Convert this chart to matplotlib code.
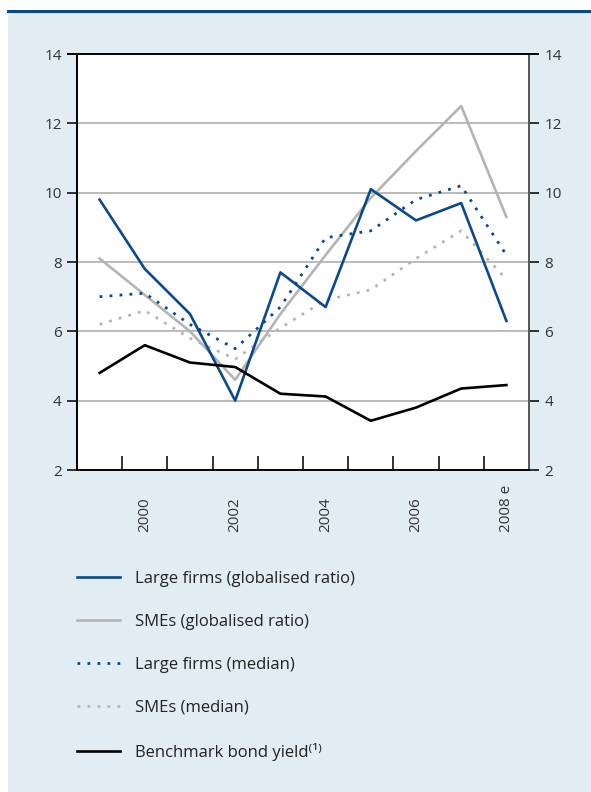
import matplotlib.pyplot as plt
from matplotlib.patches import Rectangle
from matplotlib.transforms import blended_transform_factory

plt.rcParams['font.family'] = ['Open Sans', 'DejaVu Sans']

years = [1999, 2000, 2001, 2002, 2003, 2004, 2005, 2006, 2007, 2008]
large_glob = [9.8, 7.8, 6.5, 4.0, 7.7, 6.7, 10.1, 9.2, 9.7, 6.3]
sme_glob = [8.1, 7.05, 6.0, 4.6, 6.5, 8.2, 9.85, 11.2, 12.5, 9.3]
large_med = [7.0, 7.1, 6.2, 5.5, 6.7, 8.7, 8.9, 9.8, 10.2, 8.2]
sme_med = [6.2, 6.6, 5.8, 5.2, 6.1, 6.9, 7.2, 8.1, 8.9, 7.5]
bond = [4.8, 5.6, 5.1, 4.97, 4.2, 4.12, 3.42, 3.8, 4.35, 4.45]
year_labels = ['2000', '2002', '2004', '2006', '2008 e']
label_years = [2000, 2002, 2004, 2006, 2008]

blue = '#0a4a8c'
grey = '#b4b4b4'
bg = '#e2ecf3'

fig = plt.figure(figsize=(5.91, 7.92), dpi=100)
fig.patch.set_facecolor('white')
fig.patches.append(Rectangle((8 / 591, 0), 1, 1 - 12 / 792, transform=fig.transFigure,
                             facecolor=bg, edgecolor='none', zorder=-10))
fig.add_artist(plt.Line2D([8 / 591, 1], [1 - 11 / 792, 1 - 11 / 792], transform=fig.transFigure,
                          color=blue, lw=2.2))

ax = fig.add_axes([77 / 591, 1 - 470 / 792, 452 / 591, 416 / 792])
ax.set_facecolor('white')

l1, = ax.plot(years, large_glob, color=blue, lw=1.9, label='Large firms (globalised ratio)', zorder=5)
l2, = ax.plot(years, sme_glob, color=grey, lw=1.9, label='SMEs (globalised ratio)', zorder=4)
l3, = ax.plot(years, large_med, color=blue, lw=2.0, ls=(0, (1, 2.6)), label='Large firms (median)', zorder=4)
l4, = ax.plot(years, sme_med, color=grey, lw=2.0, ls=(0, (1, 2.6)), label='SMEs (median)', zorder=3)
l5, = ax.plot(years, bond, color='black', lw=1.9,
              label='Benchmark bond yield\u207d\u00b9\u207e', zorder=5)

ax.set_xlim(1998.5, 2008.5)
ax.set_ylim(2, 14)
ax.set_yticks([2, 4, 6, 8, 10, 12, 14])
for y in [4, 6, 8, 10, 12]:
    ax.axhline(y, color='#a8a8a8', lw=1.1, zorder=1)

ax.set_xticks([1999.5 + i for i in range(9)])
ax.set_xticklabels([])
ax.tick_params(axis='x', direction='in', length=10, width=1.3, color='#222')
ax.tick_params(axis='y', direction='out', length=7, width=1.3, color='#222',
               labelsize=11, labelcolor='#333', left=True, right=True,
               labelleft=True, labelright=True, pad=4)
for s in ['left', 'top', 'bottom']:
    ax.spines[s].set_color('black')
    ax.spines[s].set_linewidth(1.4)
ax.spines['right'].set_color('#555')
ax.spines['right'].set_linewidth(1.4)
ax.spines['top'].set_bounds(1998.5 - 0.2, 2008.5 + 0.2)

tr = blended_transform_factory(ax.transData, ax.transAxes)
for yr, lab in zip(label_years, year_labels):
    ax.text(yr, -62 / 416, lab, transform=tr, rotation=90, ha='center', va='bottom',
            fontsize=11, color='#333')

fig.legend(handles=[l1, l2, l3, l4, l5], loc='upper left',
           bbox_to_anchor=(77 / 591, 1 - 571 / 792), frameon=False,
           borderpad=0, borderaxespad=0,
           fontsize=12, handlelength=2.6, handletextpad=0.9, labelspacing=1.62,
           labelcolor='#222')

fig.savefig('out.png', dpi=100, facecolor=fig.get_facecolor())
